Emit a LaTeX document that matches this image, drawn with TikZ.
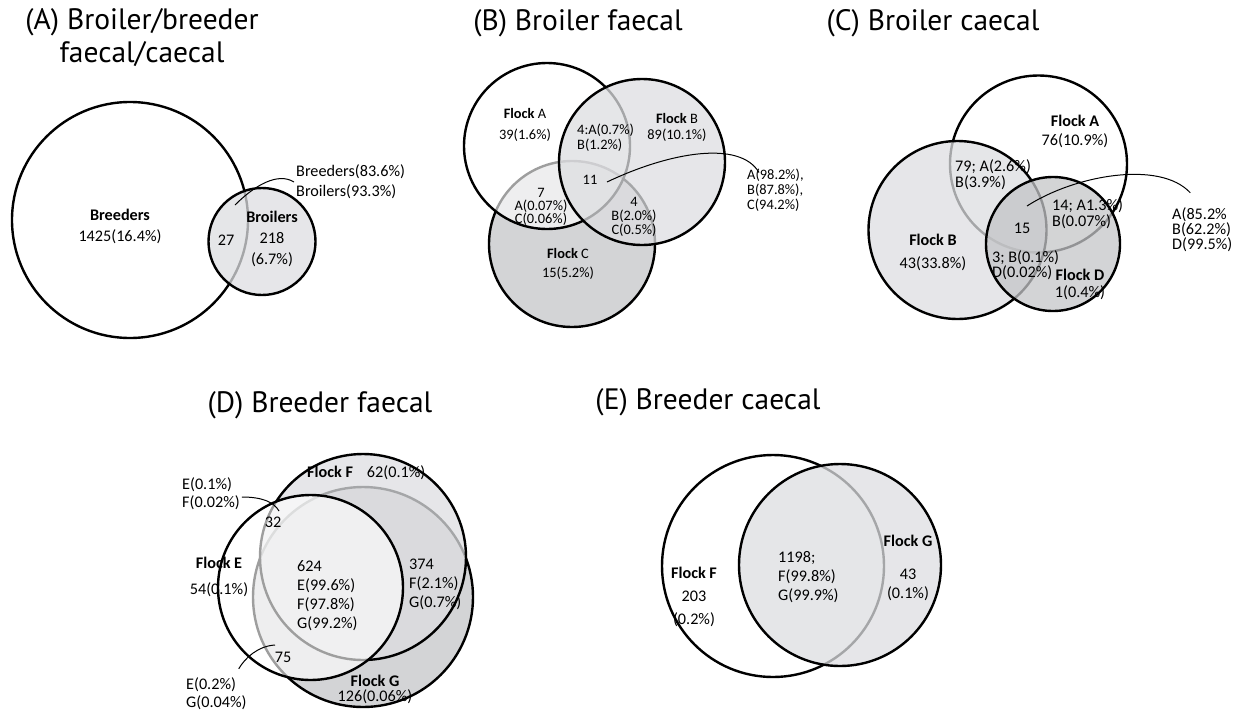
\documentclass[tikz,border=0pt]{standalone}
\usepackage{fontspec}
\setmainfont{Carlito}
\newfontfamily\ttlfont{PT Sans}
\usepackage{tikz}
\usetikzlibrary{positioning}
\definecolor{lightfill}{RGB}{221,222,225}
\definecolor{darkfill}{RGB}{196,197,200}
\tikzstyle{ring} = [draw=black, line width=2.4pt]
\tikzstyle{topring} = [ring, fill=white, fill opacity=0.62]
\tikzstyle{lightring} = [ring, fill=lightfill, fill opacity=0.75]
\tikzstyle{darkring} = [ring, fill=darkfill, fill opacity=0.75]
\tikzstyle{ttl} = [font=\ttlfont\fontsize{29.5}{33}\selectfont, align=center, inner sep=0pt]
\tikzstyle{callout} = [line width=1pt]
\tikzset{lbl/.style={font=\fontsize{16.2}{#1}\selectfont, align=center, inner sep=0pt},
	lbl/.default=19,
	lbll/.style={lbl=#1, align=left, anchor=west},
	lbll/.default=19,
	sml/.style={font=\fontsize{14.4}{#1}\selectfont, align=center, inner sep=0pt},
	sml/.default=14}

\begin{document}
\begin{tikzpicture}[x=1pt, y=-1pt]
	\useasboundingbox (0,0) rectangle (1243,710);

	\node [ttl] (titleA) at (142, 38) {(A) Broiler/breeder\\faecal/caecal};
	\draw [topring] (130, 220) circle [radius=118];
	\draw [lightring] (262, 241.5) circle [radius=53.5];
	\node [lbl=21] (breeders) at (120, 226) {\textbf{Breeders}\\1425(16.4\%)};
	\node [lbl] (a27) at (226, 240) {27};
	\node [lbl=21] (broilers) at (272, 239) {\textbf{Broilers}\\218\\(6.7\%)};
	\node [lbll=20, inner sep=2pt] (aCall) at (294, 182) {Breeders(83.6\%)\\Broilers(93.3\%)};
	\coordinate (aPt) at (235, 205);
	\draw [callout] (aPt) .. controls (255, 185) and (278, 172) .. (aCall.west);

	\node [ttl] (titleB) at (578, 23) {(B) Broiler faecal};
	\draw [darkring] (572, 244) circle [radius=83];
	\draw [topring] (547, 146) circle [radius=83];
	\draw [lightring] (642, 162) circle [radius=83];
	\node [sml=21] (bFlockA) at (525, 124.5) {\textbf{Flock} A\\39(1.6\%)};
	\node [sml=15, align=left, anchor=west] (bAB) at (577, 137.5) {4:A(0.7\%)\\B(1.2\%)};
	\node [sml=16] (bFlockB) at (677, 127) {\textbf{Flock} B\\89(10.1\%)};
	\node [sml] (b11) at (590, 180) {11};
	\node [sml=13] (bAC) at (541, 207) {7\\A(0.07\%)\\C(0.06\%)};
	\node [sml=14] (bBC) at (634, 217) {4\\B(2.0\%)\\C(0.5\%)};
	\node [sml=19] (bFlockC) at (568, 263.5) {\textbf{Flock} C\\15(5.2\%)};
	\node [sml=15, align=left, anchor=west] (bCall) at (747, 190) {A(98.2\%),\\B(87.8\%),\\C(94.2\%)};
	\coordinate (bPt) at (607, 182);
	\draw [callout] (bPt) .. controls (670, 152) and (740, 140) .. ([xshift=12pt, yshift=-4pt]bCall.north west);

	\node [ttl] (titleC) at (933, 23) {(C) Broiler caecal};
	\draw [topring] (1038.5, 164) circle [radius=88.5];
	\draw [lightring] (957.5, 230) circle [radius=89];
	\draw [darkring] (1053, 244) circle [radius=67];
	\node [lbl] (cFlockA) at (1075, 131.5) {\textbf{Flock A}\\76(10.9\%)};
	\node [lbll=16] (cAB) at (955, 175) {79; A(2.6\%)\\B(3.9\%)};
	\node [lbl] (c15) at (1022, 228) {15};
	\node [lbll=16] (cAD) at (1052, 214) {14; A1.3\%)\\B(0.07\%)};
	\node [lbl=23] (cFlockB) at (933, 252.5) {\textbf{Flock B}\\43(33.8\%)};
	\node [lbll=15] (cBD) at (992, 265.5) {3; B(0.1\%)\\D(0.02\%)};
	\node [lbl=17] (cFlockD) at (1080, 284.5) {\textbf{Flock D}\\1(0.4\%)};
	\node [lbll=15] (cCall) at (1172, 230) {A(85.2\%\\B(62.2\%)\\D(99.5\%)};
	\coordinate (cPt) at (1027, 206);
	\draw [callout] (cPt) .. controls (1075, 175) and (1160, 160) .. ([xshift=-12pt, yshift=15pt]cCall.north);

	\node [ttl] (titleD) at (320, 405) {(D) Breeder faecal};
	\draw [darkring] (363, 597) circle [radius=110];
	\draw [lightring] (363, 557) circle [radius=103];
	\draw [topring] (310.5, 587.5) circle [radius=92.5];
	\node [lbll] (dFlockF) at (307, 473) {\textbf{Flock F}\hspace{14pt}62(0.1\%)};
	\node [lbll=18] (dCallEF) at (182, 494) {E(0.1\%)\\F(0.02\%)};
	\coordinate (d32pt) at (279, 511);
	\draw [callout] ([xshift=2pt, yshift=-3pt]dCallEF.east) .. controls (262, 497) and (274, 502) .. (d32pt);
	\node [lbl] (d32) at (273, 522) {32};
	\node [lbl=26] (dFlockE) at (219, 577) {\textbf{Flock E}\\54(0.1\%)};
	\node [lbll] (dEFG) at (297, 596) {624\\E(99.6\%)\\F(97.8\%)\\G(99.2\%)};
	\node [lbll] (dFG) at (409, 584) {374\\F(2.1\%)\\G(0.7\%)};
	\node [lbl] (d75) at (283, 657) {75};
	\node [lbll=18] (dCallEG) at (186, 694) {E(0.2\%)\\G(0.04\%)};
	\coordinate (d75pt) at (275, 645);
	\draw [callout] (d75pt) .. controls (258, 646) and (245, 658) .. ([xshift=-8pt, yshift=9pt]dCallEG.north east);
	\node [lbl=15] (dFlockG) at (375, 689.5) {\textbf{Flock G}\\126(0.06\%)};

	\node [ttl] (titleE) at (708, 402) {(E) Breeder caecal};
	\draw [topring] (773, 566) circle [radius=111];
	\draw [lightring] (840, 565) circle [radius=101];
	\node [lbl=23] (eFlockF) at (694, 597) {\textbf{Flock F}\\203\\(0.2\%)};
	\node [lbll] (eFG) at (778, 577) {1198;\\F(99.8\%)\\G(99.9\%)};
	\node [lbl] (eFlockG) at (908, 568) {\textbf{Flock G}\\[14pt]43\\(0.1\%)};
\end{tikzpicture}
\end{document}
